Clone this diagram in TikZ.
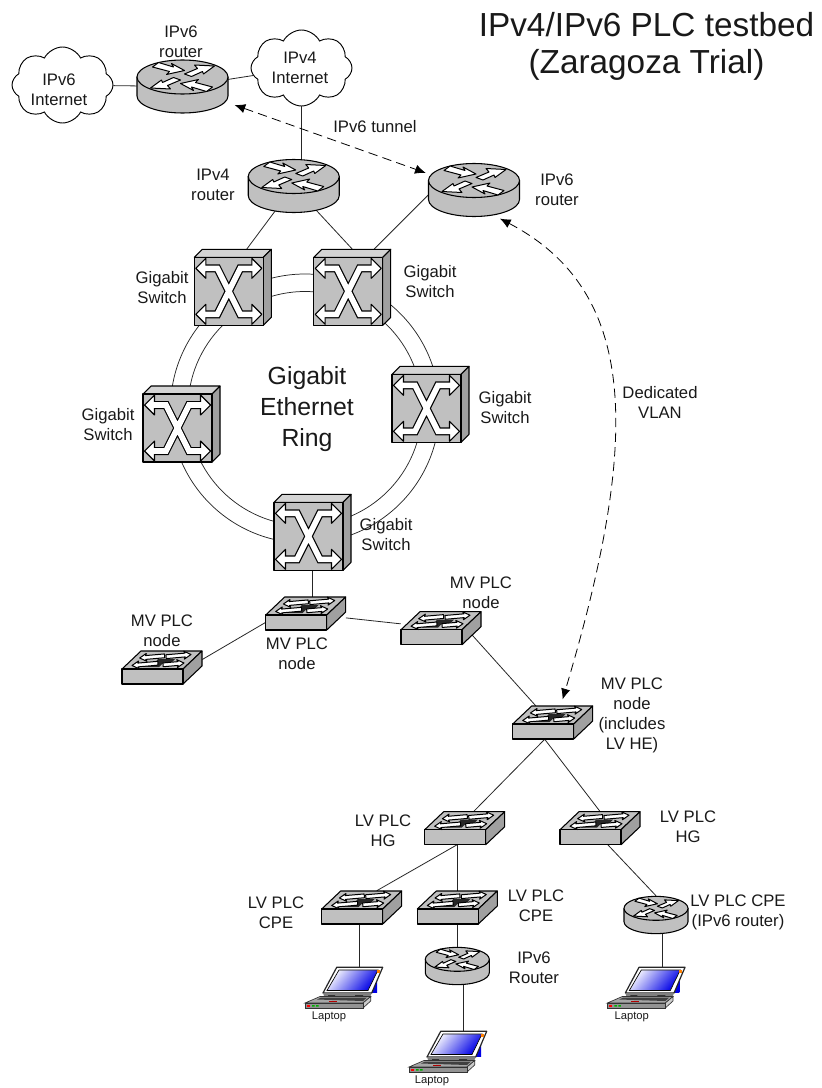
\documentclass[tikz,border=0pt]{standalone}
\usepackage{fontspec}
\setmainfont{Liberation Sans}
\usetikzlibrary{arrows.meta, calc, shapes.symbols}
\definecolor{iconbody}{HTML}{C0C0C0}
\definecolor{icontop}{HTML}{D4D4D4}
\definecolor{iconside}{HTML}{A0A0A0}
\begin{document}
\begin{tikzpicture}[
  x=0.75pt, y=-0.75pt,
  routerbox/.style={minimum width=68.25pt, minimum height=39.75pt, inner sep=0pt},
  smallbox/.style={minimum width=48pt, minimum height=28.5pt, inner sep=0pt},
  gigabox/.style={minimum width=57.75pt, minimum height=57pt, inner sep=0pt},
  flatbox/.style={minimum width=60pt, minimum height=24.75pt, inner sep=0pt},
  laptopbox/.style={minimum width=34.5pt, minimum height=30.75pt, inner sep=0pt},
  netcloud/.style={
    draw=black, cloud, cloud puffs=8, cloud puff arc=125,
    minimum width=75.75pt, minimum height=57pt, inner sep=0pt,
    line width=0.7pt
  },
  link/.style={line width=0.6pt, draw=black!85},
  ringline/.style={line width=0.55pt, draw=black!85},
  dasharrow/.style={
    {Latex[length=8pt,width=7pt]}-{Latex[length=8pt,width=7pt]},
    dash pattern=on 7pt off 4pt, line width=0.6pt
  },
  devlabel/.style={font=\fontsize{12.5}{15}\selectfont, align=center, inner sep=0pt, text=black!90},
  laptoplabel/.style={font=\fontsize{8.4}{10}\selectfont, inner sep=0pt, text=black!90},
  iconline/.style={draw=black, line width=0.8pt, line join=round},
  routericon/.pic={
    \path[iconline, fill=iconbody] (-45.5,-9.5) -- (-45.5,9.5)
      arc [start angle=180, end angle=0, x radius=45.5, y radius=17] -- (45.5,-9.5) -- cycle;
    \path[iconline, fill=iconbody] (0,-9.5) ellipse [x radius=45.5, y radius=17];
    \foreach \ang in {0,180} {
      \path[draw=black, line width=0.75pt, line join=round, fill=white, shift={(0,-9.5)}, rotate=\ang]
        (-30,-10) -- (-24,-14.5) -- (-9,-10) -- (-11,-13.5) -- (2,-6.5) -- (-16,-2.5) -- (-13,-5.5) -- cycle;
      \path[draw=black, line width=0.75pt, line join=round, fill=white, shift={(0,-9.5)}, rotate=\ang]
        (2,-3) -- (15,-8.5) -- (12,-12) -- (32,-11) -- (21,-3) -- (20,-5.5) -- (9,-0.5) -- cycle;
    }
  },
  flaticon/.pic={
    \begin{scope}[shift={(-40,1.5)}]
      \path[iconline, fill=iconbody] (0,0) -- (19,-18) -- (80,-18) -- (61,0) -- cycle;
      \path[iconline, fill=iconside] (61,0) -- (80,-18) -- (80,-3) -- (61,15) -- cycle;
      \path[iconline, fill=iconbody] (0,0) rectangle (61,15);
      \fill[black!85] (21,-2) -- (37,-2) -- (42,-7) -- (26,-7) -- cycle;
      \fill[black!85] (36,-10) -- (53,-10) -- (49,-6) -- (33,-6) -- cycle;
      \foreach \tipx/\tipy/\dirn/\len in {17.7/-11/1/25, 69/-14.5/-1/25, 10/-3.5/1/26, 62/-6/-1/21} {
        \path[draw=black, line width=0.75pt, line join=round, fill=white, shift={(\tipx,\tipy)}, rotate=5, xscale=\dirn]
          (0,0) -- (7,-4) -- (6,-1.9) -- (\len,-1.9) -- (\len,1.9) -- (6,1.9) -- (7,4) -- cycle;
      }
    \end{scope}
  },
  xicon/.pic={
    \begin{scope}[shift={(-38.5,-30)}]
      \path[iconline, fill=icontop] (0,0) -- (8,-8) -- (77,-8) -- (69,0) -- cycle;
      \path[iconline, fill=iconside] (69,0) -- (77,-8) -- (77,60) -- (69,68) -- cycle;
      \path[iconline, fill=iconbody] (0,0) rectangle (69,68);
      \draw[black, line width=6pt, line join=miter]
        (10,11) -- (23,11) -- (46,57) -- (59,57) (59,11) -- (46,11) -- (23,57) -- (10,57);
      \foreach \rowy in {11,57} {
        \path[iconline, fill=white] (1.5,\rowy) -- (11.5,\rowy-10) -- (11.5,\rowy+10) -- cycle;
        \path[iconline, fill=white] (67.5,\rowy) -- (57.5,\rowy-10) -- (57.5,\rowy+10) -- cycle;
      }
      \draw[white, line width=4.2pt, line join=miter]
        (9.5,11) -- (23,11) -- (46,57) -- (59.5,57) (59.5,11) -- (46,11) -- (23,57) -- (9.5,57);
    \end{scope}
  },
  laptopicon/.pic={
    \begin{scope}[shift={(-54.7,20.5)}]
      \shade[top color=white, bottom color=blue!90!black, shading angle=50] (21,-39) rectangle (72,-16);
      \fill[white, even odd rule] (31.7,-40.7) -- (77.7,-40.7) -- (66.7,-15) -- (18,-15) -- cycle
        (34,-38) -- (73,-38) -- (63,-17.5) -- (22,-17.5) -- cycle;
      \draw[black!85, line width=0.9pt, line join=round] (31.7,-40.7) -- (77.7,-40.7) -- (66.7,-15) -- (18,-15) -- cycle;
      \draw[black, line width=0.5pt] (34,-38) -- (73,-38) -- (63,-17.5) -- (22,-17.5) -- cycle;
      \fill[orange] (71.5,-38.5) rectangle (74.5,-35.5);
      \fill[gray] (18,-15) -- (66.7,-15) -- (65.5,-12) -- (19,-12) -- cycle;
      \fill[black!80] (23,-13) rectangle (30,-10.5) (50,-13) rectangle (58,-10.5);
      \path[draw=black!80, line width=0.5pt, fill=gray!70] (0,-5) -- (15,-11.5) -- (65.7,-11.5) -- (58,-5) -- cycle;
      \path[draw=black!80, line width=0.5pt, fill=gray!40] (58,-5) -- (65.7,-11.5) -- (65.7,-7) -- (58,0) -- cycle;
      \path[draw=black!80, line width=0.5pt, fill=gray!85] (0,-5) rectangle (58,0);
      \fill[black!75] (12,-8.5) -- (16,-10.5) -- (62,-10.5) -- (58,-7) -- cycle;
      \fill[red] (2,-3) rectangle (4.5,-1.5);
      \fill[green!70!black] (7,-3) rectangle (9.5,-1.5) (11,-3) rectangle (13.5,-1.5);
      \fill[red!70!black] (24,-7.5) rectangle (32,-6);
    \end{scope}
  }
]

\useasboundingbox (0,0) rectangle (821,1088);

\node[netcloud] (cloudsix)  at (62.5,85)  {};
\node[netcloud] (cloudfour) at (301.5,68) {};

\node[routerbox] (rsixa) at (182.5,86.5) {};
\node[routerbox] (rfour) at (293.75,186) {};
\node[routerbox] (rsixb) at (474,190)    {};
\node[smallbox]  (rsone) at (457.3,966)  {};
\node[smallbox]  (rstwo) at (656,915)    {};

\node[gigabox] (gone)   at (232.8,287.3) {};
\node[gigabox] (gtwo)   at (352.2,287.3) {};
\node[gigabox] (gthree) at (181.5,424)   {};
\node[gigabox] (gfour)  at (430.5,404.3) {};
\node[gigabox] (gfive)  at (312.5,532.3) {};

\node[flatbox] (mvone)   at (162,667.5)   {};
\node[flatbox] (mvtwo)   at (305.7,613.5) {};
\node[flatbox] (mvthree) at (441,628.2)   {};
\node[flatbox] (mvfour)  at (552.7,722.5) {};
\node[flatbox] (hgone)   at (464.7,828.2) {};
\node[flatbox] (hgtwo)   at (600,828.2)   {};
\node[flatbox] (cpeone)  at (361.7,907.5) {};
\node[flatbox] (cpetwo)  at (457.3,907.5) {};

\node[laptopbox] (lapone)   at (359.7,987.5)  {};
\node[laptopbox] (laptwo)   at (463.7,1051.5) {};
\node[laptopbox] (lapthree) at (662,987.5)    {};

\coordinate (ringc) at (305,408.5);
\draw[ringline] (ringc) circle [radius=134.5];
\draw[ringline] (ringc) circle [radius=117];

\draw[link] (cloudsix) -- (rsixa);
\draw[link] (rsixa) -- (cloudfour);
\draw[link] (cloudfour) -- (cloudfour |- rfour);
\draw[link] (rfour.center) -- ($(gone.north)+(14,0)$);
\draw[link] (rfour.center) -- (gtwo.north);
\draw[link] ($(rsixb.west)+(0,5)$) -- ($(gtwo.north)+(22,0)$);
\draw[link] (gfive) -- (gfive |- mvtwo);
\draw[link] ($(mvone.east)+(0,-8)$) -- ($(mvtwo.west)+(0,9)$);
\draw[link] (mvtwo) -- (mvthree);
\draw[link] ($(mvthree)+(25,0)$) -- ($(mvfour.north)+(-17,0)$);
\draw[link] ($(mvfour.south)+(-8,0)$) -- ($(hgone.north)+(9,0)$);
\draw[link] ($(mvfour.south)+(-8,0)$) -- (hgtwo.north);
\draw[link] ($(hgone.south)+(-8,0)$) -- ($(cpeone.north)+(15,0)$);
\draw[link] (cpetwo.north) -- (cpetwo.north |- hgone.south);
\draw[link] ($(hgtwo.south)+(8,0)$) -- (rstwo.north);
\draw[link] (lapone.north) -- (lapone.north |- cpeone.south);
\draw[link] (cpetwo.south) -- (rsone.north);
\draw[link] (laptwo.north) -- (laptwo.north |- rsone.south);
\draw[link] (lapthree.north) -- (lapthree.north |- rstwo.south);

\draw[dasharrow, shorten <=5pt, shorten >=2pt] (rsixa) -- (rsixb);
\draw[dasharrow, shorten <=3pt, shorten >=5pt]
  (rsixb.-50) .. controls (640,292) and (640,440) .. ($(mvfour.north)+(8,0)$);

\pic at (rsixa) {routericon};
\pic at (rfour) {routericon};
\pic at (rsixb) {routericon};
\pic[scale=0.703] at (rsone) {routericon};
\pic[scale=0.703] at (rstwo) {routericon};

\foreach \gname in {gone,gtwo,gthree,gfour,gfive} {
  \pic at (\gname) {xicon};
}
\foreach \fname in {mvone,mvtwo,mvthree,mvfour,hgone,hgtwo,cpeone,cpetwo} {
  \pic at (\fname) {flaticon};
}
\foreach \lname in {lapone,laptwo,lapthree} {
  \pic at (\lname) {laptopicon};
}

\node[font=\fontsize{25}{28}\selectfont, align=center, inner sep=0pt, text=black!90] (lbltitle) at (646.5,46.5) {IPv4/IPv6 PLC testbed\\(Zaragoza Trial)};
\node[font=\fontsize{18.6}{23}\selectfont, align=center, inner sep=0pt, text=black!90] (lblring) at (307,409) {Gigabit\\Ethernet\\Ring};

\node[devlabel] (lblcsix)  at (59,90)    {IPv6\\Internet};
\node[devlabel] (lblcfour) at (300,68)   {IPv4\\Internet};
\node[devlabel] (lblrsixa) at (181,42)   {IPv6\\router};
\node[devlabel] (lblrfour) at (213,185)  {IPv4\\router};
\node[devlabel] (lblrsixb) at (557,190)  {IPv6\\router};
\node[devlabel] (lbltunnel) at (375,127) {IPv6 tunnel};
\node[devlabel] (lblvlan)  at (660,402)  {Dedicated\\VLAN};
\node[devlabel] (lblgone)  at (162,288)  {Gigabit\\Switch};
\node[devlabel] (lblgtwo)  at (430,282)  {Gigabit\\Switch};
\node[devlabel] (lblgthree) at (108,425) {Gigabit\\Switch};
\node[devlabel] (lblgfour) at (505,408)  {Gigabit\\Switch};
\node[devlabel] (lblgfive) at (386,535)  {Gigabit\\Switch};
\node[devlabel] (lblmvone) at (162,631)  {MV PLC\\node};
\node[devlabel] (lblmvtwo) at (297,654)  {MV PLC\\node};
\node[devlabel] (lblmvthree) at (481,593) {MV PLC\\node};
\node[devlabel] (lblmvfour) at (632,715) {MV PLC\\node\\(includes\\LV HE)};
\node[devlabel] (lblhgone) at (383,831)  {LV PLC\\HG};
\node[devlabel] (lblhgtwo) at (688,827)  {LV PLC\\HG};
\node[devlabel] (lblcpeone) at (276,913) {LV PLC\\CPE};
\node[devlabel] (lblcpetwo) at (536,906) {LV PLC\\CPE};
\node[devlabel] (lblrsone) at (534,968)  {IPv6\\Router};
\node[devlabel] (lblrstwo) at (738,912.5) {LV PLC CPE\\(IPv6 router)};
\node[laptoplabel] (lbllapone) at (329,1017)   {Laptop};
\node[laptoplabel] (lbllaptwo) at (432,1081)   {Laptop};
\node[laptoplabel] (lbllapthree) at (631.7,1017) {Laptop};

\end{tikzpicture}
\end{document}
